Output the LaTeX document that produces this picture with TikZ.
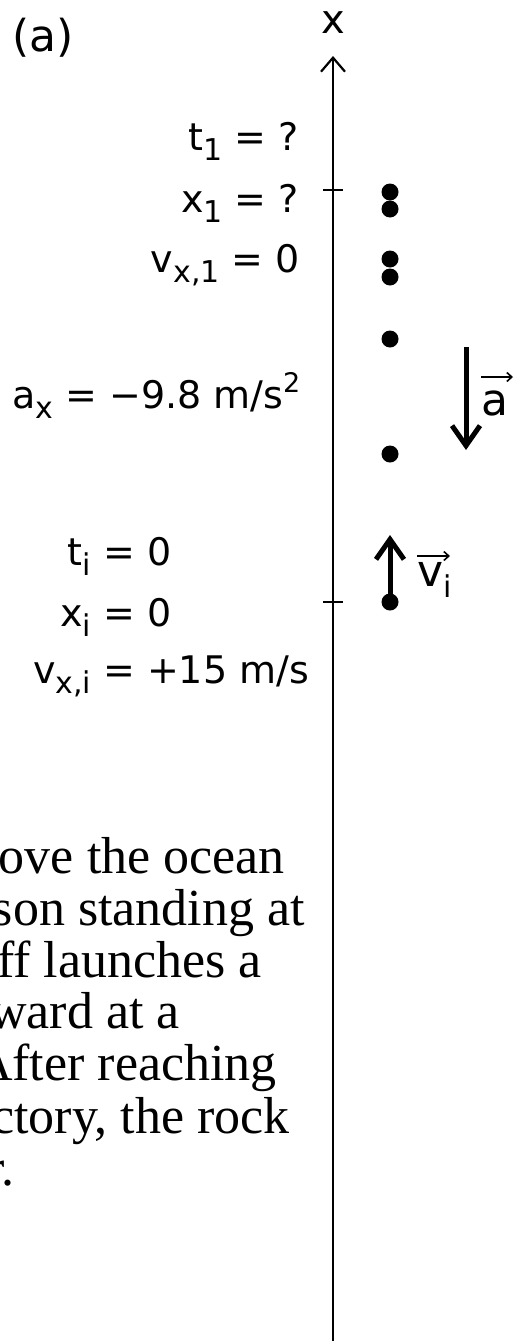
\documentclass[tikz,border=0pt]{standalone}
\usepackage{fontspec}
\setmainfont{Liberation Serif}
\newfontfamily\hand{DejaVu Sans}
\usetikzlibrary{arrows.meta}
\newcommand\sbs[1]{\raisebox{-0.27em}{\fontsize{30}{30}\selectfont #1}}
\newcommand\sps[1]{\raisebox{0.42em}{\fontsize{27}{27}\selectfont #1}}
\tikzset{
  lab/.style={inner sep=0pt, font=\hand\fontsize{38}{38}\selectfont},
  veclab/.style={inner sep=0pt, font=\hand\fontsize{44}{44}\selectfont},
  dot/.style={circle, fill=black, inner sep=0pt, minimum size=17pt},
  axisline/.style={line width=2.4pt, -{Straight Barb[length=14pt,width=24pt,line width=2.2pt]}},
  tickline/.style={line width=2pt},
  bigarr/.style={line width=5pt, -{Straight Barb[length=20pt,width=28pt,line width=5pt]}},
  vecarr/.style={line width=1.6pt, -{Straight Barb[length=5pt,width=9pt]}},
  para/.style={inner sep=0pt, font=\fontsize{52}{52}\selectfont}
}
\begin{document}
\begin{tikzpicture}[x=1pt,y=-1pt]
\useasboundingbox (0,0) rectangle (514,1341);
\clip (0,0) rectangle (514,1341);
\fill[white] (0,0) rectangle (514,1341);

% axis
\coordinate (axbot) at (333,1341);
\coordinate (axtop) at (333,56);
\draw[axisline] (axbot) -- (axtop);
\node[inner sep=0pt, font=\hand\fontsize{40}{40}\selectfont] (xlab) at (333,23) {x};

% ticks
\coordinate (t1l) at (323,190); \coordinate (t1r) at (343,190);
\coordinate (t2l) at (323,602); \coordinate (t2r) at (343,602);
\draw[tickline] (t1l) -- (t1r);
\draw[tickline] (t2l) -- (t2r);

% (a)
\node[inner sep=0pt, anchor=base west, font=\hand\fontsize{44}{44}\selectfont] (plab) at (12,51) {(a)};

% dots
\node[dot] (d1) at (390,192) {};
\node[dot] (d2) at (390,209) {};
\node[dot] (d3) at (390,259) {};
\node[dot] (d4) at (390,277) {};
\node[dot] (d5) at (390,339) {};
\node[dot] (d6) at (390,454) {};
\node[dot] (d7) at (390,602) {};

% initial velocity arrow
\coordinate (vtip) at (390,535);
\draw[bigarr] (d7.center) -- (vtip);
\node[veclab, anchor=base west] (vlab) at (417,586) {v\sbs{i}};
\draw[vecarr] ([shift={(0,-30)}]vlab.base west) -- ([shift={(33,-30)}]vlab.base west);

% acceleration arrow
\coordinate (atop) at (466,347);
\coordinate (abot) at (466,450);
\draw[bigarr] (atop) -- (abot);
\node[veclab, anchor=base west] (alab) at (481,415) {a};
\draw[vecarr] ([shift={(0,-38)}]alab.base west) -- ([shift={(32,-38)}]alab.base west);

% labels top group
\node[lab, anchor=base east] (lt1) at (299,150) {t\sbs{1} = ?};
\node[lab, anchor=base east] (lx1) at (299,212) {x\sbs{1} = ?};
\node[lab, anchor=base east] (lv1) at (300,272) {v\sbs{x,1} = 0};

% acceleration label
\node[lab, anchor=base west] (lax) at (12,408) {a\sbs{x} = −9.8 m/s\sps{2}};

% labels bottom group
\node[lab, anchor=base west] (lti) at (103,565) {\llap{t\sbs{i}\ }= 0};
\node[lab, anchor=base west] (lxi) at (103,626) {\llap{x\sbs{i}\ }= 0};
\node[lab, anchor=base west] (lvi) at (103,683) {\llap{v\sbs{x,i}\ }= +15 m/s};

% paragraph text (clipped at the left edge, as in the reference)
\node[para, anchor=base east] (p1) at (285,873) {ove the ocean};
\node[para, anchor=base east] (p2) at (305,925) {son standing at};
\node[para, anchor=base east] (p3) at (262,977) {ff launches a};
\node[para, anchor=base east] (p4) at (180,1028) {ward at a};
\node[para, anchor=base east] (p5) at (277,1080) {After reaching};
\node[para, anchor=base east] (p6) at (290,1133) {ctory, the rock};
\node[para, anchor=base east] (p7) at (15,1185) {r.};
\end{tikzpicture}
\end{document}
